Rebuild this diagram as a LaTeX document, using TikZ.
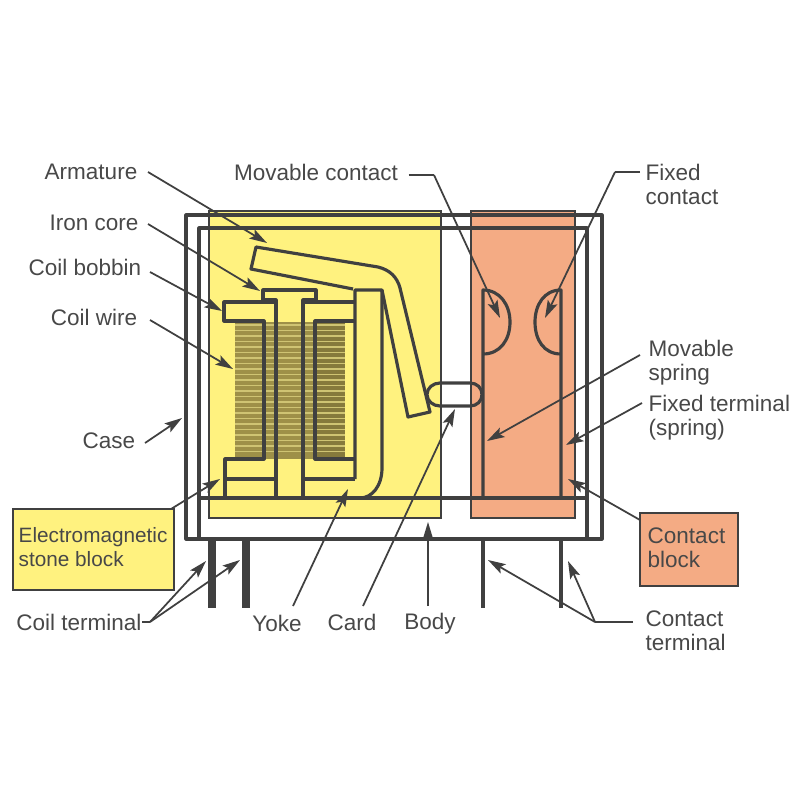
\documentclass[tikz,border=0pt]{standalone}
\usepackage{fontspec}
\setmainfont{Liberation Sans}
\usepackage[dvipsnames]{xcolor}
\usetikzlibrary{arrows.meta}
\definecolor{blockyellow}{HTML}{FFF27F}
\definecolor{blockorange}{HTML}{F4AB84}
\definecolor{coilolive}{HTML}{9E9048}
\definecolor{coilpale}{HTML}{CFC473}
\definecolor{coildark}{HTML}{867A3C}
\definecolor{inkgray}{HTML}{404040}
\definecolor{labelgray}{HTML}{484848}
\tikzset{
    part/.style={draw=inkgray, line width=0.9pt, line join=round},
    blockedge/.style={draw=inkgray, line width=0.7pt},
    pointer/.style={draw=inkgray, line width=0.5pt, -{Stealth[length=5pt,width=3pt,inset=1pt]}},
    leader/.style={draw=inkgray, line width=0.5pt},
    partlabel/.style={text=labelgray, font=\fontsize{6.4}{6.8}\selectfont, inner sep=0pt, align=left},
}
\begin{document}
\begin{tikzpicture}[x=0.01cm, y=-0.01cm]
    \useasboundingbox (0,0) rectangle (800,800);
    % Coloured blocks
    \fill[blockyellow, blockedge] (209,211) rectangle (441,518);
    \fill[blockorange, blockedge] (471,211) rectangle (575,518);
    % Coil winding
    \fill[coilolive] (235,322) rectangle (345,459);
    \fill[coildark] (315,322) rectangle (345,459);
    \foreach \y in {325,330.5,...,456}
        \draw[coilpale, line width=0.45pt] (235,\y) -- (345,\y);
    % Case and body
    \draw[part] (186,215) rectangle (602,539);
    \draw[part] (199,539) -- (199,228) -- (587,228) -- (587,539);
    \draw[part] (199,498) -- (587,498);
    % Iron core
    \draw[part] (276,498) -- (276,300) -- (263,300) -- (263,290) -- (316,290) -- (316,300) -- (303,300) -- (303,498);
    % Coil bobbin
    \draw[part] (276,302) -- (224,302) -- (224,321) -- (264,321) -- (264,459) -- (225,459) -- (225,498);
    \draw[part] (225,479) -- (276,479);
    \draw[part] (303,302) -- (354,302);
    \draw[part] (354,321) -- (315,321) -- (315,459) -- (355,459);
    \draw[part] (303,479) -- (355,479);
    % Yoke
    \draw[part] (355,479) -- (355,290) -- (382,290) -- (382,468) .. controls (382,486) and (372,498) .. (360,498);
    % Armature
    \draw[part] (353,289) -- (251,269) -- (256,247) -- (378,267)
        .. controls (390,270) and (397,277) .. (400,288) -- (430,412) -- (408,417) -- (382,290);
    % Card
    \draw[part] (427,394.5) .. controls (427,388) and (433,383) .. (440,383) -- (470,383)
        .. controls (477,383) and (482,388) .. (482,394.5) .. controls (482,401) and (477,406) .. (470,406)
        -- (440,406) .. controls (433,406) and (427,401) .. (427,394.5) -- cycle;
    % Springs and contacts
    \draw[part] (483,498) -- (483,290) .. controls (500,290) and (510,305) .. (510,322) .. controls (510,340) and (500,354) .. (483,354);
    \draw[part] (561,498) -- (561,290) .. controls (544,290) and (535,305) .. (535,322) .. controls (535,340) and (544,354) .. (561,354);
    % Terminals
    \draw[part] (483,539) -- (483,608);
    \draw[part] (561,539) -- (561,608);
    \draw[inkgray, line width=2.2pt] (212,539) -- (212,608);
    \draw[inkgray, line width=2.2pt] (246,539) -- (246,608);
    % Labels
    \node[partlabel] (armature) at (91,172) {Armature};
    \node[partlabel] (ironcore) at (94,223) {Iron core};
    \node[partlabel] (coilbobbin) at (85,267) {Coil bobbin};
    \node[partlabel] (coilwire) at (94,317) {Coil wire};
    \node[partlabel] (case) at (109,441) {Case};
    \node[partlabel] (movablecontact) at (316,172) {Movable contact};
    \node[partlabel, anchor=west] (fixedcontact) at (645,184) {Fixed\\contact};
    \node[partlabel, anchor=west] (movablespring) at (648,363) {Movable\\spring};
    \node[partlabel, anchor=west] (fixedterminal) at (648,418) {Fixed terminal\\(spring)};
    \node[partlabel] (coilterminal) at (79,622) {Coil terminal};
    \node[partlabel] (yoke) at (277,623) {Yoke};
    \node[partlabel] (card) at (352,622) {Card};
    \node[partlabel] (body) at (430,624) {Body};
    \node[partlabel, anchor=west] (contactterminal) at (645,631) {Contact\\terminal};
    % Block keys
    \fill[blockyellow, blockedge] (13,509) rectangle (174,590);
    \coordinate (magneticbox) at (171,509);
    \node[partlabel, anchor=west, font=\fontsize{5.9}{6.9}\selectfont] (magneticblock) at (18,547) {Electromagnetic\\stone block};
    \fill[blockorange, blockedge] (640,513) rectangle (738,586);
    \coordinate (contactbox) at (640,520);
    \node[partlabel, anchor=west] (contactblock) at (647,548) {Contact\\block};
    % Arrow tips and bends
    \coordinate (armaturestart) at (148,172);
    \coordinate (armaturetip) at (267,243);
    \coordinate (ironcorestart) at (148,224);
    \coordinate (ironcoretip) at (260,291);
    \coordinate (bobbinstart) at (150,272);
    \coordinate (bobbintip) at (222,311);
    \coordinate (wirestart) at (150,320);
    \coordinate (wiretip) at (233,369);
    \coordinate (casestart) at (145,443);
    \coordinate (casetip) at (182,418);
    \coordinate (magnetictip) at (220,479);
    \coordinate (coiljoin) at (150,622);
    \coordinate (coiltipa) at (206,561);
    \coordinate (coiltipb) at (240,560);
    \coordinate (yokestart) at (293,606);
    \coordinate (yoketip) at (348,489);
    \coordinate (cardstart) at (363,606);
    \coordinate (cardtip) at (455,409);
    \coordinate (bodystart) at (428,606);
    \coordinate (bodytip) at (428,522);
    \coordinate (movablebend) at (434,175);
    \coordinate (movabletip) at (500,318);
    \coordinate (fixedbend) at (615,172);
    \coordinate (fixedtip) at (545,318);
    \coordinate (springstart) at (640,355);
    \coordinate (springtip) at (487,441);
    \coordinate (fixedtermstart) at (642,403);
    \coordinate (fixedtermtip) at (566,445);
    \coordinate (contacttip) at (568,479);
    \coordinate (terminaljoin) at (595,622);
    \coordinate (terminaltipa) at (488,560);
    \coordinate (terminaltipb) at (568,561);
    % Connectors
    \draw[pointer] (armaturestart) -- (armaturetip);
    \draw[pointer] (ironcorestart) -- (ironcoretip);
    \draw[pointer] (bobbinstart) -- (bobbintip);
    \draw[pointer] (wirestart) -- (wiretip);
    \draw[pointer] (casestart) -- (casetip);
    \draw[pointer] (magneticbox) -- (magnetictip);
    \draw[leader] (coilterminal.east) -- (coiljoin);
    \draw[pointer] (coiljoin) -- (coiltipa);
    \draw[pointer] (coiljoin) -- (coiltipb);
    \draw[pointer] (yokestart) -- (yoketip);
    \draw[pointer] (cardstart) -- (cardtip);
    \draw[pointer] (bodystart) -- (bodytip);
    \draw[leader] (movablecontact.east) ++(10,3) -- (movablebend);
    \draw[pointer] (movablebend) -- (movabletip);
    \draw[leader] (fixedcontact.west |- fixedbend) ++(-5,0) -- (fixedbend);
    \draw[pointer] (fixedbend) -- (fixedtip);
    \draw[pointer] (springstart) -- (springtip);
    \draw[pointer] (fixedtermstart) -- (fixedtermtip);
    \draw[pointer] (contactbox) -- (contacttip);
    \draw[leader] (contactterminal.west |- terminaljoin) ++(-12,0) -- (terminaljoin);
    \draw[pointer] (terminaljoin) -- (terminaltipa);
    \draw[pointer] (terminaljoin) -- (terminaltipb);
\end{tikzpicture}
\end{document}
